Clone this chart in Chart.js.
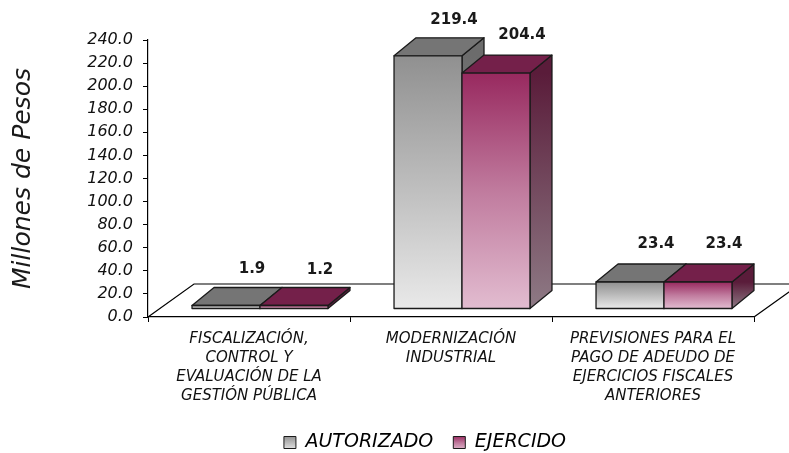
<!DOCTYPE html>
<html>
<head>
<meta charset="utf-8">
<script src="https://cdn.jsdelivr.net/npm/chart.js@4.4.0/dist/chart.umd.min.js"></script>
<style>
    html, body { margin: 0; padding: 0; background: #fff; }
    #wrap { width: 789px; height: 453px; }
</style>
</head>
<body>
<div id="wrap"><canvas id="presupuestoChart" width="789" height="453"></canvas></div>
<script>
// datos (millones de pesos)
const categorias = [
    ['FISCALIZACIÓN,', 'CONTROL Y', 'EVALUACIÓN DE LA', 'GESTIÓN PÚBLICA'],
    ['MODERNIZACIÓN', 'INDUSTRIAL'],
    ['PREVISIONES PARA EL', 'PAGO DE ADEUDO DE', 'EJERCICIOS FISCALES', 'ANTERIORES']
];
const autorizado = [1.9, 219.4, 23.4];
const ejercido = [1.2, 204.4, 23.4];
const series = ['AUTORIZADO', 'EJERCIDO'];
const ejeY = { min: 0, max: 240, paso: 20 };
const tituloY = 'Millones de Pesos';

const fuente = "'DejaVu Sans', sans-serif";

// colores de las caras 3D (gris / vino)
const estilos = [
    { frente: ['#909090', '#bcbcbc', '#e9e9e9'], lado: ['#6c6c6c', '#a0a0a0'], techo: '#757575' },
    { frente: ['#98295f', '#c07b9e', '#e2bcd0'], lado: ['#5a1c3a', '#8e7a85'], techo: '#74204a' }
];

// desplazamientos de la perspectiva
const PROF_X = 22, PROF_Y = -18;     // profundidad de cada barra
const DESP_X = 11, DESP_Y = -8;      // las barras van a media profundidad del piso
const PISO_X = 46, PISO_Y = -33;     // profundidad del piso

function gradiente(ctx, y0, y1, colores) {
    const g = ctx.createLinearGradient(0, y0, 0, y1);
    colores.forEach((c, i) => g.addColorStop(i / (colores.length - 1), c));
    return g;
}

function poligono(ctx, pts, relleno) {
    ctx.beginPath();
    ctx.moveTo(pts[0][0], pts[0][1]);
    for (let i = 1; i < pts.length; i++) ctx.lineTo(pts[i][0], pts[i][1]);
    ctx.closePath();
    ctx.fillStyle = relleno;
    ctx.fill();
    ctx.stroke();
}

function barra(ctx, bar, est) {
    const l = bar.x - bar.width / 2 + DESP_X;
    const r = bar.x + bar.width / 2 + DESP_X;
    const t = Math.min(bar.y, bar.base - 3) + DESP_Y;
    const b = bar.base + DESP_Y;
    // cara lateral
    poligono(ctx, [[r, t], [r + PROF_X, t + PROF_Y], [r + PROF_X, b + PROF_Y], [r, b]],
        gradiente(ctx, t, b, est.lado));
    // techo
    poligono(ctx, [[l, t], [l + PROF_X, t + PROF_Y], [r + PROF_X, t + PROF_Y], [r, t]], est.techo);
    // frente
    poligono(ctx, [[l, t], [r, t], [r, b], [l, b]], gradiente(ctx, t, b, est.frente));
}

const barras3D = {
    id: 'barras3D',
    beforeDatasetsDraw(chart) {
        const { ctx, chartArea } = chart;
        const y0 = chart.scales.y.getPixelForValue(0);
        ctx.save();
        // piso en perspectiva
        ctx.strokeStyle = '#000';
        ctx.lineWidth = 1.2;
        ctx.beginPath();
        ctx.moveTo(chartArea.left, y0);
        ctx.lineTo(chartArea.left + PISO_X, y0 + PISO_Y);
        ctx.lineTo(chartArea.right + PISO_X, y0 + PISO_Y);
        ctx.lineTo(chartArea.right, y0);
        ctx.stroke();

        // barras: gris primero, vino despues (queda al frente)
        ctx.strokeStyle = '#1a1a1a';
        ctx.lineWidth = 1.3;
        ctx.lineJoin = 'round';
        chart.data.labels.forEach((_, j) => {
            chart.data.datasets.forEach((ds, i) => {
                barra(ctx, chart.getDatasetMeta(i).data[j], estilos[i]);
            });
        });
        ctx.restore();
    },
    beforeDatasetDraw() {
        return false;
    },
    afterDatasetsDraw(chart) {
        // etiquetas de valor sobre cada barra
        const ctx = chart.ctx;
        ctx.save();
        ctx.font = "bold 15px " + fuente;
        ctx.fillStyle = '#1a1a1a';
        ctx.textAlign = 'center';
        ctx.textBaseline = 'middle';
        chart.data.datasets.forEach((ds, i) => {
            chart.getDatasetMeta(i).data.forEach((bar, j) => {
                ctx.fillText(ds.data[j].toFixed(1), bar.x + 37, Math.max(bar.y - 46, 20));
            });
        });
        ctx.restore();
    },
    afterLayout(chart) {
        // la leyenda original esta un poco a la derecha del centro y mas abajo
        chart.legend.left += 48;
        chart.legend.right += 48;
        chart.legend.top += 9;
        chart.legend.bottom += 9;
    }
};

const ctx = document.getElementById('presupuestoChart').getContext('2d');
new Chart(ctx, {
    type: 'bar',
    data: {
        labels: categorias,
        datasets: [
            { label: series[0], data: autorizado, backgroundColor: '#b0b0b0' },
            { label: series[1], data: ejercido, backgroundColor: '#b05080' }
        ]
    },
    options: {
        responsive: false,
        animation: false,
        datasets: { bar: { categoryPercentage: 0.673, barPercentage: 1 } },
        layout: { padding: { top: 40, right: 35, left: 0, bottom: 0 } },
        scales: {
            x: {
                afterFit: scale => { scale.height -= 9; },
                grid: { offset: true, drawOnChartArea: false, tickLength: 5, color: '#000' },
                border: { color: '#000', width: 1.2 },
                ticks: {
                    color: '#111',
                    font: { family: fuente, size: 15, style: 'italic', lineHeight: 1.25 },
                    padding: 8,
                    maxRotation: 0,
                    autoSkip: false
                }
            },
            y: {
                min: ejeY.min,
                max: ejeY.max,
                afterFit: scale => { scale.width = 148; },
                grid: { drawOnChartArea: false, tickLength: 5, color: '#000' },
                border: { color: '#000', width: 1.2 },
                ticks: {
                    stepSize: ejeY.paso,
                    color: '#111',
                    padding: 10,
                    font: { family: fuente, size: 16, style: 'italic' },
                    callback: v => v.toFixed(1)
                },
                title: {
                    display: true,
                    text: tituloY,
                    color: '#1a1a1a',
                    font: { family: fuente, size: 25, style: 'italic' },
                    padding: { top: 8, bottom: 0 }
                }
            }
        },
        plugins: {
            tooltip: { enabled: false },
            legend: {
                position: 'bottom',
                labels: {
                    color: '#1a1a1a',
                    font: { family: fuente, size: 19, style: 'italic' },
                    boxWidth: 12,
                    boxHeight: 12,
                    padding: 20,
                    generateLabels(chart) {
                        const lg = chart.legend;
                        const top = lg && lg.top ? lg.top : chart.height - 40;
                        return series.map((s, i) => ({
                            text: s,
                            fillStyle: gradiente(chart.ctx, top + 23, top + 37, estilos[i].frente),
                            strokeStyle: '#1a1a1a',
                            lineWidth: 1,
                            datasetIndex: i
                        }));
                    }
                }
            }
        }
    },
    plugins: [barras3D]
});
</script>
</body>
</html>
